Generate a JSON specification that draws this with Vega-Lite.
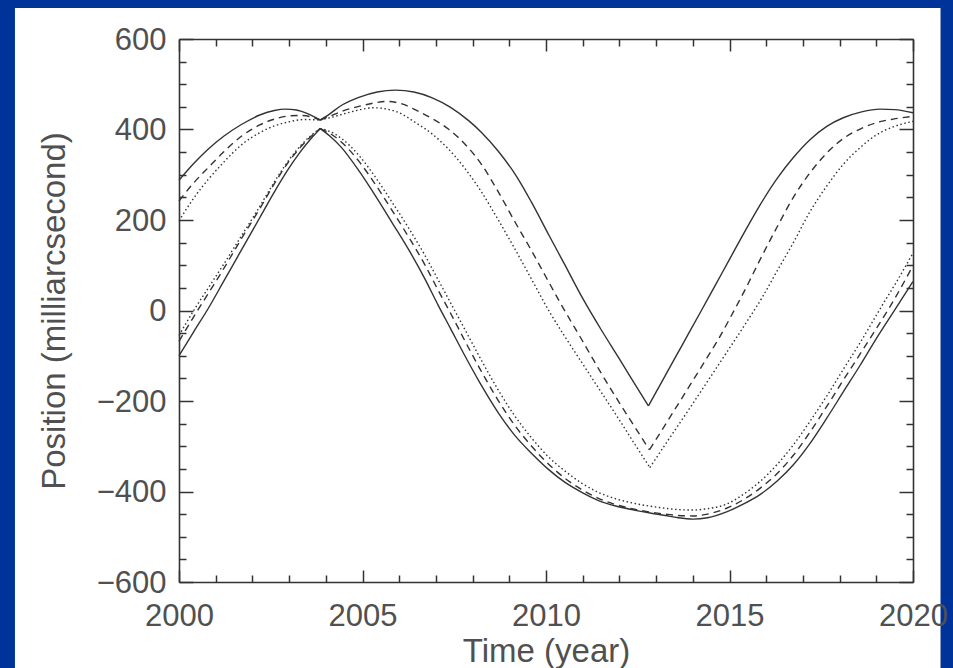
{
  "$schema": "https://vega.github.io/schema/vega-lite/v6.json",
  "width": 734,
  "height": 543,
  "autosize": {"type": "none"},
  "padding": {"left": 179, "top": 39, "right": 40, "bottom": 86},
  "background": "#003399",
  "config": {
    "view": {"stroke": null},
    "axis": {
      "grid": false,
      "tickColor": "#333333", "tickWidth": 1.5,
      "domainColor": "#333333", "domainWidth": 1.6,
      "labelFont": "Liberation Sans", "labelFontSize": 31, "labelColor": "#505050",
      "titleFont": "Liberation Sans", "titleFontSize": 33, "titleFontWeight": "normal", "titleColor": "#505050",
      "labelOverlap": false, "labelFlush": false, "labelBound": false
    }
  },
  "data": {"values": [
    {"m":"a","p":"u1","t":2000,"v":288},{"m":"a","p":"u1","t":2000.4,"v":325},{"m":"a","p":"u1","t":2000.8,"v":357},{"m":"a","p":"u1","t":2001.2,"v":384},{"m":"a","p":"u1","t":2001.7,"v":411},{"m":"a","p":"u1","t":2002.2,"v":432},{"m":"a","p":"u1","t":2002.6,"v":442},{"m":"a","p":"u1","t":2002.9,"v":445},{"m":"a","p":"u1","t":2003.2,"v":443},{"m":"a","p":"u1","t":2003.5,"v":435},{"m":"a","p":"u1","t":2003.85,"v":421},
    {"m":"a","p":"u2","t":2003.85,"v":421},{"m":"a","p":"u2","t":2004.1,"v":434},{"m":"a","p":"u2","t":2004.4,"v":452},{"m":"a","p":"u2","t":2004.9,"v":471},{"m":"a","p":"u2","t":2005.4,"v":483},{"m":"a","p":"u2","t":2005.9,"v":487},{"m":"a","p":"u2","t":2006.4,"v":483},{"m":"a","p":"u2","t":2006.9,"v":470},{"m":"a","p":"u2","t":2007.4,"v":449},{"m":"a","p":"u2","t":2007.9,"v":419},{"m":"a","p":"u2","t":2008.25,"v":393},{"m":"a","p":"u2","t":2008.7,"v":352},{"m":"a","p":"u2","t":2009.2,"v":296},{"m":"a","p":"u2","t":2009.6,"v":240},{"m":"a","p":"u2","t":2010.07,"v":168},{"m":"a","p":"u2","t":2010.5,"v":103},{"m":"a","p":"u2","t":2011.02,"v":24},{"m":"a","p":"u2","t":2011.5,"v":-42},{"m":"a","p":"u2","t":2012,"v":-107},{"m":"a","p":"u2","t":2012.4,"v":-160},{"m":"a","p":"u2","t":2012.79,"v":-211},
    {"m":"a","p":"u3","t":2012.79,"v":-211},{"m":"a","p":"u3","t":2013.2,"v":-151},{"m":"a","p":"u3","t":2013.7,"v":-78},{"m":"a","p":"u3","t":2014.2,"v":-5},{"m":"a","p":"u3","t":2014.6,"v":54},{"m":"a","p":"u3","t":2015,"v":113},{"m":"a","p":"u3","t":2015.4,"v":172},{"m":"a","p":"u3","t":2015.83,"v":233},{"m":"a","p":"u3","t":2016.3,"v":292},{"m":"a","p":"u3","t":2016.74,"v":338},{"m":"a","p":"u3","t":2017.2,"v":378},{"m":"a","p":"u3","t":2017.65,"v":407},{"m":"a","p":"u3","t":2018.1,"v":426},{"m":"a","p":"u3","t":2018.6,"v":439},{"m":"a","p":"u3","t":2019.1,"v":445},{"m":"a","p":"u3","t":2019.5,"v":444},{"m":"a","p":"u3","t":2020,"v":437},
    {"m":"b","p":"u1","t":2000,"v":242},{"m":"b","p":"u1","t":2000.4,"v":282},{"m":"b","p":"u1","t":2000.8,"v":316},{"m":"b","p":"u1","t":2001.2,"v":349},{"m":"b","p":"u1","t":2001.7,"v":385},{"m":"b","p":"u1","t":2002.2,"v":410},{"m":"b","p":"u1","t":2002.6,"v":423},{"m":"b","p":"u1","t":2003,"v":430},{"m":"b","p":"u1","t":2003.3,"v":431},{"m":"b","p":"u1","t":2003.6,"v":428},{"m":"b","p":"u1","t":2003.85,"v":421},
    {"m":"b","p":"u2","t":2003.85,"v":421},{"m":"b","p":"u2","t":2004.1,"v":429},{"m":"b","p":"u2","t":2004.43,"v":440},{"m":"b","p":"u2","t":2004.9,"v":451},{"m":"b","p":"u2","t":2005.34,"v":459},{"m":"b","p":"u2","t":2005.65,"v":462},{"m":"b","p":"u2","t":2006.1,"v":456},{"m":"b","p":"u2","t":2006.43,"v":444},{"m":"b","p":"u2","t":2006.9,"v":424},{"m":"b","p":"u2","t":2007.34,"v":401},{"m":"b","p":"u2","t":2007.8,"v":367},{"m":"b","p":"u2","t":2008.25,"v":322},{"m":"b","p":"u2","t":2008.7,"v":262},{"m":"b","p":"u2","t":2009.16,"v":195},{"m":"b","p":"u2","t":2009.6,"v":133},{"m":"b","p":"u2","t":2010,"v":74},{"m":"b","p":"u2","t":2010.45,"v":8},{"m":"b","p":"u2","t":2011,"v":-68},{"m":"b","p":"u2","t":2011.5,"v":-138},{"m":"b","p":"u2","t":2012,"v":-204},{"m":"b","p":"u2","t":2012.4,"v":-255},{"m":"b","p":"u2","t":2012.82,"v":-308},
    {"m":"b","p":"u3","t":2012.82,"v":-308},{"m":"b","p":"u3","t":2013.3,"v":-246},{"m":"b","p":"u3","t":2013.8,"v":-181},{"m":"b","p":"u3","t":2014.3,"v":-116},{"m":"b","p":"u3","t":2014.7,"v":-63},{"m":"b","p":"u3","t":2015.06,"v":-10},{"m":"b","p":"u3","t":2015.45,"v":50},{"m":"b","p":"u3","t":2015.83,"v":112},{"m":"b","p":"u3","t":2016.3,"v":185},{"m":"b","p":"u3","t":2016.74,"v":250},{"m":"b","p":"u3","t":2017.2,"v":305},{"m":"b","p":"u3","t":2017.65,"v":348},{"m":"b","p":"u3","t":2018.1,"v":380},{"m":"b","p":"u3","t":2018.56,"v":401},{"m":"b","p":"u3","t":2019,"v":415},{"m":"b","p":"u3","t":2019.46,"v":423},{"m":"b","p":"u3","t":2020,"v":429},
    {"m":"c","p":"u1","t":2000,"v":198},{"m":"c","p":"u1","t":2000.4,"v":248},{"m":"c","p":"u1","t":2000.8,"v":290},{"m":"c","p":"u1","t":2001.2,"v":326},{"m":"c","p":"u1","t":2001.7,"v":366},{"m":"c","p":"u1","t":2002.2,"v":393},{"m":"c","p":"u1","t":2002.6,"v":408},{"m":"c","p":"u1","t":2003,"v":417},{"m":"c","p":"u1","t":2003.4,"v":422},{"m":"c","p":"u1","t":2003.85,"v":421},
    {"m":"c","p":"u2","t":2003.85,"v":421},{"m":"c","p":"u2","t":2004.2,"v":428},{"m":"c","p":"u2","t":2004.6,"v":437},{"m":"c","p":"u2","t":2005,"v":445},{"m":"c","p":"u2","t":2005.3,"v":448},{"m":"c","p":"u2","t":2005.6,"v":446},{"m":"c","p":"u2","t":2006,"v":437},{"m":"c","p":"u2","t":2006.43,"v":416},{"m":"c","p":"u2","t":2006.9,"v":390},{"m":"c","p":"u2","t":2007.34,"v":357},{"m":"c","p":"u2","t":2007.8,"v":313},{"m":"c","p":"u2","t":2008.25,"v":261},{"m":"c","p":"u2","t":2008.7,"v":200},{"m":"c","p":"u2","t":2009.16,"v":135},{"m":"c","p":"u2","t":2009.6,"v":70},{"m":"c","p":"u2","t":2010.11,"v":-5},{"m":"c","p":"u2","t":2010.5,"v":-56},{"m":"c","p":"u2","t":2011,"v":-118},{"m":"c","p":"u2","t":2011.5,"v":-180},{"m":"c","p":"u2","t":2012,"v":-242},{"m":"c","p":"u2","t":2012.4,"v":-293},{"m":"c","p":"u2","t":2012.83,"v":-347},
    {"m":"c","p":"u3","t":2012.83,"v":-347},{"m":"c","p":"u3","t":2013.3,"v":-290},{"m":"c","p":"u3","t":2013.8,"v":-230},{"m":"c","p":"u3","t":2014.3,"v":-169},{"m":"c","p":"u3","t":2014.92,"v":-93},{"m":"c","p":"u3","t":2015.47,"v":-25},{"m":"c","p":"u3","t":2015.9,"v":30},{"m":"c","p":"u3","t":2016.28,"v":85},{"m":"c","p":"u3","t":2016.74,"v":150},{"m":"c","p":"u3","t":2017.19,"v":218},{"m":"c","p":"u3","t":2017.65,"v":275},{"m":"c","p":"u3","t":2018.1,"v":323},{"m":"c","p":"u3","t":2018.56,"v":360},{"m":"c","p":"u3","t":2019,"v":388},{"m":"c","p":"u3","t":2019.5,"v":407},{"m":"c","p":"u3","t":2020,"v":418},
    {"m":"a","p":"l1","t":2000,"v":-100},{"m":"a","p":"l1","t":2000.4,"v":-47},{"m":"a","p":"l1","t":2000.8,"v":5},{"m":"a","p":"l1","t":2001.2,"v":62},{"m":"a","p":"l1","t":2001.71,"v":135},{"m":"a","p":"l1","t":2002.2,"v":205},{"m":"a","p":"l1","t":2002.62,"v":265},{"m":"a","p":"l1","t":2003,"v":315},{"m":"a","p":"l1","t":2003.3,"v":350},{"m":"a","p":"l1","t":2003.6,"v":380},{"m":"a","p":"l1","t":2003.85,"v":402},
    {"m":"a","p":"l2","t":2003.85,"v":402},{"m":"a","p":"l2","t":2004.1,"v":386},{"m":"a","p":"l2","t":2004.43,"v":360},{"m":"a","p":"l2","t":2004.9,"v":309},{"m":"a","p":"l2","t":2005.34,"v":255},{"m":"a","p":"l2","t":2005.8,"v":195},{"m":"a","p":"l2","t":2006.29,"v":130},{"m":"a","p":"l2","t":2006.7,"v":70},{"m":"a","p":"l2","t":2007.06,"v":12},{"m":"a","p":"l2","t":2007.4,"v":-40},{"m":"a","p":"l2","t":2007.79,"v":-100},{"m":"a","p":"l2","t":2008.2,"v":-160},{"m":"a","p":"l2","t":2008.7,"v":-226},{"m":"a","p":"l2","t":2009.15,"v":-276},{"m":"a","p":"l2","t":2009.61,"v":-316},{"m":"a","p":"l2","t":2010.05,"v":-350},{"m":"a","p":"l2","t":2010.52,"v":-380},{"m":"a","p":"l2","t":2011,"v":-403},{"m":"a","p":"l2","t":2011.43,"v":-420},{"m":"a","p":"l2","t":2011.9,"v":-432},{"m":"a","p":"l2","t":2012.34,"v":-440},{"m":"a","p":"l2","t":2012.8,"v":-447},{"m":"a","p":"l2","t":2013.25,"v":-453},{"m":"a","p":"l2","t":2013.6,"v":-458},{"m":"a","p":"l2","t":2014,"v":-461},{"m":"a","p":"l2","t":2014.4,"v":-458},{"m":"a","p":"l2","t":2014.92,"v":-445},{"m":"a","p":"l2","t":2015.4,"v":-427},{"m":"a","p":"l2","t":2015.83,"v":-407},{"m":"a","p":"l2","t":2016.3,"v":-377},{"m":"a","p":"l2","t":2016.74,"v":-341},{"m":"a","p":"l2","t":2017.2,"v":-293},{"m":"a","p":"l2","t":2017.65,"v":-238},{"m":"a","p":"l2","t":2018.1,"v":-180},{"m":"a","p":"l2","t":2018.56,"v":-121},{"m":"a","p":"l2","t":2019,"v":-62},{"m":"a","p":"l2","t":2019.46,"v":-4},{"m":"a","p":"l2","t":2020,"v":64},
    {"m":"b","p":"l1","t":2000,"v":-68},{"m":"b","p":"l1","t":2000.4,"v":-14},{"m":"b","p":"l1","t":2000.8,"v":38},{"m":"b","p":"l1","t":2001.2,"v":90},{"m":"b","p":"l1","t":2001.71,"v":160},{"m":"b","p":"l1","t":2002.2,"v":225},{"m":"b","p":"l1","t":2002.62,"v":283},{"m":"b","p":"l1","t":2003,"v":330},{"m":"b","p":"l1","t":2003.3,"v":360},{"m":"b","p":"l1","t":2003.6,"v":385},{"m":"b","p":"l1","t":2003.85,"v":402},
    {"m":"b","p":"l2","t":2003.85,"v":402},{"m":"b","p":"l2","t":2004.1,"v":392},{"m":"b","p":"l2","t":2004.43,"v":372},{"m":"b","p":"l2","t":2004.9,"v":330},{"m":"b","p":"l2","t":2005.34,"v":280},{"m":"b","p":"l2","t":2005.8,"v":222},{"m":"b","p":"l2","t":2006.29,"v":158},{"m":"b","p":"l2","t":2006.7,"v":101},{"m":"b","p":"l2","t":2007.06,"v":45},{"m":"b","p":"l2","t":2007.4,"v":-6},{"m":"b","p":"l2","t":2007.79,"v":-67},{"m":"b","p":"l2","t":2008.2,"v":-129},{"m":"b","p":"l2","t":2008.7,"v":-199},{"m":"b","p":"l2","t":2009.15,"v":-254},{"m":"b","p":"l2","t":2009.61,"v":-300},{"m":"b","p":"l2","t":2010.05,"v":-338},{"m":"b","p":"l2","t":2010.52,"v":-371},{"m":"b","p":"l2","t":2011,"v":-397},{"m":"b","p":"l2","t":2011.43,"v":-415},{"m":"b","p":"l2","t":2011.9,"v":-429},{"m":"b","p":"l2","t":2012.34,"v":-438},{"m":"b","p":"l2","t":2012.8,"v":-445},{"m":"b","p":"l2","t":2013.25,"v":-450},{"m":"b","p":"l2","t":2013.6,"v":-453},{"m":"b","p":"l2","t":2014,"v":-454},{"m":"b","p":"l2","t":2014.4,"v":-450},{"m":"b","p":"l2","t":2014.92,"v":-437},{"m":"b","p":"l2","t":2015.4,"v":-417},{"m":"b","p":"l2","t":2015.83,"v":-393},{"m":"b","p":"l2","t":2016.3,"v":-360},{"m":"b","p":"l2","t":2016.74,"v":-320},{"m":"b","p":"l2","t":2017.2,"v":-268},{"m":"b","p":"l2","t":2017.65,"v":-212},{"m":"b","p":"l2","t":2018.1,"v":-154},{"m":"b","p":"l2","t":2018.56,"v":-96},{"m":"b","p":"l2","t":2019,"v":-40},{"m":"b","p":"l2","t":2019.37,"v":8},{"m":"b","p":"l2","t":2020,"v":99},
    {"m":"c","p":"l1","t":2000,"v":-55},{"m":"c","p":"l1","t":2000.4,"v":0},{"m":"c","p":"l1","t":2000.8,"v":50},{"m":"c","p":"l1","t":2001.2,"v":100},{"m":"c","p":"l1","t":2001.71,"v":166},{"m":"c","p":"l1","t":2002.2,"v":230},{"m":"c","p":"l1","t":2002.62,"v":287},{"m":"c","p":"l1","t":2003,"v":333},{"m":"c","p":"l1","t":2003.3,"v":363},{"m":"c","p":"l1","t":2003.6,"v":387},{"m":"c","p":"l1","t":2003.85,"v":402},
    {"m":"c","p":"l2","t":2003.85,"v":402},{"m":"c","p":"l2","t":2004.1,"v":396},{"m":"c","p":"l2","t":2004.43,"v":380},{"m":"c","p":"l2","t":2004.9,"v":343},{"m":"c","p":"l2","t":2005.34,"v":296},{"m":"c","p":"l2","t":2005.8,"v":240},{"m":"c","p":"l2","t":2006.29,"v":178},{"m":"c","p":"l2","t":2006.7,"v":122},{"m":"c","p":"l2","t":2007.06,"v":68},{"m":"c","p":"l2","t":2007.4,"v":17},{"m":"c","p":"l2","t":2007.79,"v":-42},{"m":"c","p":"l2","t":2008.2,"v":-104},{"m":"c","p":"l2","t":2008.7,"v":-176},{"m":"c","p":"l2","t":2009.15,"v":-233},{"m":"c","p":"l2","t":2009.61,"v":-282},{"m":"c","p":"l2","t":2010.05,"v":-322},{"m":"c","p":"l2","t":2010.52,"v":-355},{"m":"c","p":"l2","t":2011,"v":-383},{"m":"c","p":"l2","t":2011.43,"v":-402},{"m":"c","p":"l2","t":2011.9,"v":-416},{"m":"c","p":"l2","t":2012.34,"v":-425},{"m":"c","p":"l2","t":2012.8,"v":-432},{"m":"c","p":"l2","t":2013.25,"v":-437},{"m":"c","p":"l2","t":2013.6,"v":-440},{"m":"c","p":"l2","t":2014,"v":-441},{"m":"c","p":"l2","t":2014.4,"v":-438},{"m":"c","p":"l2","t":2014.92,"v":-428},{"m":"c","p":"l2","t":2015.4,"v":-405},{"m":"c","p":"l2","t":2015.83,"v":-378},{"m":"c","p":"l2","t":2016.3,"v":-340},{"m":"c","p":"l2","t":2016.74,"v":-297},{"m":"c","p":"l2","t":2017.2,"v":-244},{"m":"c","p":"l2","t":2017.65,"v":-189},{"m":"c","p":"l2","t":2018.1,"v":-130},{"m":"c","p":"l2","t":2018.56,"v":-71},{"m":"c","p":"l2","t":2019.15,"v":10},{"m":"c","p":"l2","t":2019.6,"v":70},{"m":"c","p":"l2","t":2020,"v":127}
  ]},
  "resolve": {"axis": {"x": "independent", "y": "independent"}},
  "layer": [
    {
      "data": {"values": [{}]},
      "mark": {"type": "rect", "color": "white", "zindex": 0},
      "encoding": {
        "x": {"datum": 1995.53, "type": "quantitative", "scale": {"domain": [2000, 2020], "nice": false, "zero": false},
              "axis": {"orient": "top", "zindex": 2, "values": [2001,2002,2003,2004,2006,2007,2008,2009,2011,2012,2013,2014,2016,2017,2018,2019], "tickSize": -7, "labels": false, "domain": false, "title": null}},
        "x2": {"datum": 2020.75},
        "y": {"datum": 668.5, "type": "quantitative", "scale": {"domain": [-600, 600], "nice": false, "zero": false},
              "axis": {"orient": "right", "zindex": 2, "values": [-550,-500,-450,-350,-300,-250,-150,-100,-50,50,100,150,250,300,350,450,500,550], "tickSize": -7, "labels": false, "domain": false, "title": null}},
        "y2": {"datum": -850}
      }
    },
    {
      "transform": [{"filter": "datum.m === 'a'"}],
      "mark": {"type": "line", "interpolate": "monotone", "color": "#333333", "strokeWidth": 1.4},
      "encoding": {
        "x": {"field": "t", "type": "quantitative", "scale": {"domain": [2000, 2020], "nice": false, "zero": false},
              "axis": {"orient": "bottom", "zindex": 2, "values": [2000, 2005, 2010, 2015, 2020], "format": "d", "tickSize": -12, "labelPadding": 31, "domain": true, "title": "Time (year)", "titlePadding": 4}},
        "y": {"field": "v", "type": "quantitative", "scale": {"domain": [-600, 600], "nice": false, "zero": false},
              "axis": {"orient": "left", "zindex": 2, "values": [-600, -400, -200, 0, 200, 400, 600], "format": "d", "tickSize": -14, "labelPadding": 27, "labelOffset": 1, "domain": true, "title": "Position  (milliarcsecond)", "titlePadding": 25}},
        "detail": {"field": "p"}
      }
    },
    {
      "transform": [{"filter": "datum.m === 'b'"}],
      "mark": {"type": "line", "interpolate": "monotone", "color": "#333333", "strokeWidth": 1.4, "strokeDash": [7, 5]},
      "encoding": {
        "x": {"field": "t", "type": "quantitative", "scale": {"domain": [2000, 2020], "nice": false, "zero": false},
              "axis": {"orient": "bottom", "zindex": 2, "values": [2001,2002,2003,2004,2006,2007,2008,2009,2011,2012,2013,2014,2016,2017,2018,2019], "tickSize": -7, "labels": false, "domain": false, "title": null}},
        "y": {"field": "v", "type": "quantitative", "scale": {"domain": [-600, 600], "nice": false, "zero": false},
              "axis": {"orient": "left", "zindex": 2, "values": [-550,-500,-450,-350,-300,-250,-150,-100,-50,50,100,150,250,300,350,450,500,550], "tickSize": -7, "labels": false, "domain": false, "title": null}},
        "detail": {"field": "p"}
      }
    },
    {
      "transform": [{"filter": "datum.m === 'c'"}],
      "mark": {"type": "line", "interpolate": "monotone", "color": "#333333", "strokeWidth": 1.4, "strokeDash": [1.5, 2.6]},
      "encoding": {
        "x": {"field": "t", "type": "quantitative", "scale": {"domain": [2000, 2020], "nice": false, "zero": false},
              "axis": {"orient": "top", "zindex": 2, "values": [2000, 2005, 2010, 2015, 2020], "tickSize": -12, "labels": false, "domain": true, "title": null}},
        "y": {"field": "v", "type": "quantitative", "scale": {"domain": [-600, 600], "nice": false, "zero": false},
              "axis": {"orient": "right", "zindex": 2, "values": [-600, -400, -200, 0, 200, 400, 600], "tickSize": -14, "labels": false, "domain": true, "title": null}},
        "detail": {"field": "p"}
      }
    }
  ]
}
